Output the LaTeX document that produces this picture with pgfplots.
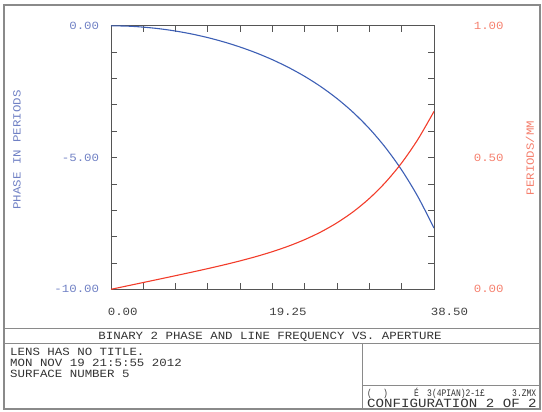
\documentclass[border=0pt]{standalone}
\usepackage{fontspec}
\usepackage{pgfplots}
\pgfplotsset{compat=1.18}
\setmainfont{Liberation Sans}
\newfontfamily\zmx[FakeStretch=1.13]{Liberation Mono}
\newfontfamily\zmxn[FakeStretch=0.8]{Liberation Mono}
\definecolor{bluelab}{HTML}{6F80C4}
\definecolor{redlab}{HTML}{F5806E}
\definecolor{bluecurve}{HTML}{3D5FB5}
\definecolor{redcurve}{HTML}{F23C2A}
\definecolor{framec}{HTML}{8A8A8A}
\definecolor{axisc}{HTML}{555555}
\newcommand{\zf}{\zmx\fontsize{11}{12}\selectfont}
\newcommand{\zn}{\zmxn\fontsize{10}{11}\selectfont}
\begin{document}
\begin{tikzpicture}[x=1pt,y=1pt]
\useasboundingbox (0,0) rectangle (542,-412);
\draw[framec, line width=1.2pt] (4,-5) rectangle (540,-409);
\draw[framec, line width=1pt] (4,-328) -- (540,-328);
\draw[framec, line width=1pt] (4,-343) -- (540,-343);
\draw[framec, line width=1pt] (362,-343) -- (362,-409);
\draw[framec, line width=1pt] (362,-385) -- (540,-385);

\begin{axis}[at={(111pt,-289.3pt)}, anchor=south west, scale only axis,
  width=323pt, height=263.5pt,
  xmin=0, xmax=38.5, ymin=-10, ymax=0,
  xtick={0,3.85,7.7,11.55,15.4,19.25,23.1,26.95,30.8,34.65,38.5},
  xticklabels={0.00,,,,,19.25,,,,,38.50},
  ytick={-10,-9,-8,-7,-6,-5,-4,-3,-2,-1,0},
  yticklabels={-10.00,,,,,-5.00,,,,,0.00},
  tick align=inside, xtick pos=both, ytick pos=both,
  xticklabel pos=lower, yticklabel pos=left,
  major tick length=6pt,
  axis line style={axisc, line width=0.9pt},
  every tick/.style={axisc, line width=0.8pt},
  /pgf/number format/assume math mode=true,
  xticklabel style={font=\zf, text=black!75, anchor=north west, xshift=-6.7pt, yshift=-15pt},
  yticklabel style={font=\zf, text=bluelab, anchor=east, xshift=-8.3pt},
  clip=false]
\addplot[bluecurve, line width=1.1pt, smooth] coordinates {
(0,0) (1.925,-0.012) (3.85,-0.050) (5.775,-0.112) (7.7,-0.199) (9.625,-0.311)
(11.55,-0.449) (13.475,-0.614) (15.4,-0.807) (17.325,-1.031) (19.25,-1.288)
(21.175,-1.583) (23.1,-1.922) (25.025,-2.312) (26.95,-2.764) (28.875,-3.289)
(30.8,-3.903) (32.725,-4.624) (34.65,-5.475) (36.575,-6.482) (38.5,-7.676)};
\end{axis}

\begin{axis}[at={(111pt,-289.3pt)}, anchor=south west, scale only axis,
  width=323pt, height=263.5pt,
  xmin=0, xmax=38.5, ymin=0, ymax=1,
  axis x line=none, axis y line*=right,
  ytick={0,0.5,1}, yticklabels={0.00,0.50,1.00},
  major tick length=0pt,
  axis line style={axisc, line width=0.9pt},
  /pgf/number format/assume math mode=true,
  yticklabel style={font=\zf, text=redlab, anchor=west, xshift=36.3pt}]
\addplot[redcurve, line width=1.1pt, smooth] coordinates {
(0,0) (1.925,0.0129) (3.85,0.0258) (5.775,0.0387) (7.7,0.0518) (9.625,0.0650)
(11.55,0.0786) (13.475,0.0928) (15.4,0.1080) (17.325,0.1245) (19.25,0.1430)
(21.175,0.1641) (23.1,0.1887) (25.025,0.2178) (26.95,0.2526) (28.875,0.2944)
(30.8,0.3450) (32.725,0.4062) (34.65,0.4799) (36.575,0.5687) (38.5,0.675)};
\end{axis}

\node[rotate=90, text=bluelab, font=\zf] at (17,-150) {PHASE IN PERIODS};
\node[rotate=90, text=redlab, font=\zf] at (530,-158) {PERIODS/MM};

\node[font=\zf, text=black!80, anchor=base, inner sep=0] at (270,-339.6) {BINARY 2 PHASE AND LINE FREQUENCY VS. APERTURE};
\node[font=\zf, text=black!80, anchor=base west, inner sep=0] at (10,-355.6) {LENS HAS NO TITLE.};
\node[font=\zf, text=black!80, anchor=base west, inner sep=0] at (10,-366.6) {MON NOV 19 21:5:55 2012};
\node[font=\zf, text=black!80, anchor=base west, inner sep=0] at (10,-377.6) {SURFACE NUMBER 5};
\node[font=\zn, text=black!80, anchor=base west, inner sep=0] at (367,-396) {(};
\node[font=\zn, text=black!80, anchor=base west, inner sep=0] at (383,-396) {)};
\node[font=\zn, text=black!80, anchor=base west, inner sep=0] at (414,-396) {É};
\node[font=\zn, text=black!80, anchor=base west, inner sep=0] at (427,-396) {3(4PIAN)2-1£};
\node[font=\zn, text=black!80, anchor=base west, inner sep=0] at (512,-396) {3.ZMX};
\node[font=\zmx\fontsize{12.5}{13}\selectfont, text=black!80, anchor=base west, inner sep=0] at (367,-407.5) {CONFIGURATION 2 OF 2};
\end{tikzpicture}
\end{document}
